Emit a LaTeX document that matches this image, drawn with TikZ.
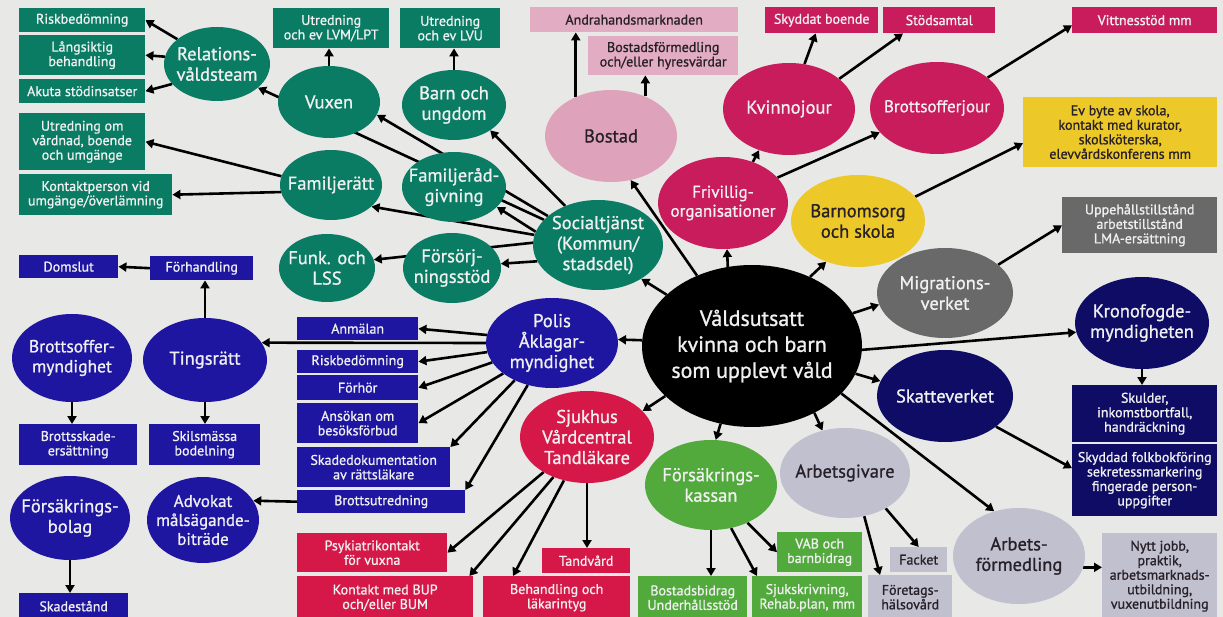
\documentclass[tikz,border=0pt]{standalone}
\usepackage{fontspec}
\setmainfont{PT Sans}[FakeBold=1]
\usetikzlibrary{arrows.meta,shapes.geometric}
\pgfdeclarelayer{back}
\pgfdeclarelayer{bg}
\pgfsetlayers{back,bg,main}
\definecolor{bgc}{RGB}{232,232,230}
\definecolor{teal}{RGB}{10,124,100}
\definecolor{polb}{RGB}{30,22,160}
\definecolor{navy}{RGB}{14,12,100}
\definecolor{pinkl}{RGB}{222,163,187}
\definecolor{pinkb}{RGB}{226,172,194}
\definecolor{mag}{RGB}{200,28,92}
\definecolor{redc}{RGB}{214,24,72}
\definecolor{yel}{RGB}{236,200,40}
\definecolor{greyd}{RGB}{105,105,105}
\definecolor{grn}{RGB}{82,170,60}
\definecolor{lav}{RGB}{192,192,206}
\definecolor{darkt}{RGB}{40,32,40}
\definecolor{lightt}{RGB}{240,240,240}
\tikzset{
 ell/.style={ellipse, inner xsep=-20pt, inner ysep=-10pt, font=\fontsize{18.5}{20.5}\selectfont, align=center, text=lightt},
 ellsm/.style={font=\fontsize{17}{19}\selectfont},
 bx/.style={rectangle, anchor=north west, inner sep=0pt, font=\fontsize{14}{14.5}\selectfont, align=center, text=lightt},
 arr/.style={line width=2.6pt, -{Triangle[length=8pt,width=9pt]}, black}
}
\begin{document}
\begin{tikzpicture}[x=1pt,y=-1pt]
\useasboundingbox (0,0) rectangle (1223,617);
\begin{pgfonlayer}{back}
\fill[bgc] (0,0) rectangle (1223,617);
\end{pgfonlayer}
% ---------- boxes ----------
\node[bx,fill=teal,minimum width=126pt,minimum height=24pt] (t1) at (19,8) {Riskbedömning};
\node[bx,fill=teal,minimum width=126pt,minimum height=40pt] (t2) at (19,35) {Långsiktig\\behandling};
\node[bx,fill=teal,minimum width=126pt,minimum height=24pt] (t3) at (19,79) {Akuta stödinsatser};
\node[bx,fill=teal,minimum width=126pt,minimum height=57pt] (t4) at (19,113) {Utredning om\\vårdnad, boende\\och umgänge};
\node[bx,fill=teal,minimum width=153pt,minimum height=41pt] (t5) at (19,174) {Kontaktperson vid\\umgänge/överlämning};
\node[bx,fill=teal,minimum width=116pt,minimum height=40pt] (t6) at (273,8) {Utredning\\och ev LVM/LPT};
\node[bx,fill=teal,minimum width=100pt,minimum height=40pt] (t7) at (400,8) {Utredning\\och ev LVU};
\node[bx,fill=pinkb,text=darkt,minimum width=208pt,minimum height=25pt] (p1) at (530,7) {Andrahandsmarknaden};
\node[bx,fill=pinkb,text=darkt,minimum width=150pt,minimum height=39pt] (p2) at (588,36) {Bostadsförmedling\\och/eller hyresvärdar};
\node[bx,fill=mag,minimum width=113pt,minimum height=26pt] (m1) at (765,7) {Skyddat boende};
\node[bx,fill=mag,minimum width=112pt,minimum height=26pt] (m2) at (883,7) {Stödsamtal};
\node[bx,fill=mag,minimum width=145pt,minimum height=26pt] (m3) at (1072,7) {Vittnesstöd mm};
\node[bx,fill=yel,text=darkt,minimum width=194pt,minimum height=70pt] (y1) at (1023,97) {Ev byte av skola,\\kontakt med kurator,\\skolsköterska,\\elevvårdskonferens mm};
\node[bx,fill=greyd,minimum width=155pt,minimum height=56pt] (g1) at (1062,197) {Uppehållstillstånd\\arbetstillstånd\\LMA-ersättning};
\node[bx,fill=polb,minimum width=99pt,minimum height=23pt] (d1) at (19,255) {Domslut};
\node[bx,fill=polb,minimum width=103pt,minimum height=24pt] (d2) at (150,256) {Förhandling};
\node[bx,fill=polb,minimum width=121pt,minimum height=23pt] (b1) at (297,317) {Anmälan};
\node[bx,fill=polb,minimum width=121pt,minimum height=23pt] (b2) at (297,350) {Riskbedömning};
\node[bx,fill=polb,minimum width=121pt,minimum height=25pt] (b3) at (297,375) {Förhör};
\node[bx,fill=polb,minimum width=121pt,minimum height=40pt] (b4) at (297,403) {Ansökan om\\besöksförbud};
\node[bx,fill=polb,minimum width=153pt,minimum height=40pt] (b5) at (297,447) {Skadedokumentation\\av rättsläkare};
\node[bx,fill=polb,minimum width=168pt,minimum height=23pt] (b6) at (297,490) {Brottsutredning};
\node[bx,fill=polb,minimum width=118pt,minimum height=41pt] (d3) at (19,424) {Brottsskade-\\ersättning};
\node[bx,fill=polb,minimum width=111pt,minimum height=41pt] (d4) at (149,424) {Skilsmässa\\bodelning};
\node[bx,fill=polb,minimum width=109pt,minimum height=26pt] (d5) at (19,593) {Skadestånd};
\node[bx,fill=redc,minimum width=150pt,minimum height=39pt] (r1) at (297,533) {Psykiatrikontakt\\för vuxna};
\node[bx,fill=redc,minimum width=176pt,minimum height=43pt] (r2) at (297,576) {Kontakt med BUP\\och/eller BUM};
\node[bx,fill=redc,minimum width=88pt,minimum height=25pt] (r3) at (542,548) {Tandvård};
\node[bx,fill=redc,minimum width=147pt,minimum height=43pt] (r4) at (483,576) {Behandling och\\läkarintyg};
\node[bx,fill=grn,minimum width=109pt,minimum height=43pt] (gr1) at (638,576) {Bostadsbidrag\\Underhållsstöd};
\node[bx,fill=grn,minimum width=110pt,minimum height=43pt] (gr2) at (752,576) {Sjukskrivning,\\Rehab.plan, mm};
\node[bx,fill=grn,minimum width=85pt,minimum height=40pt] (gr3) at (777,532) {VAB och\\barnbidrag};
\node[bx,fill=lav,text=darkt,minimum width=57pt,minimum height=25pt] (l1) at (890,547) {Facket};
\node[bx,fill=lav,text=darkt,minimum width=84pt,minimum height=44pt] (l2) at (868,575) {Företags-\\hälsovård};
\node[bx,fill=lav,text=darkt,minimum width=115pt,minimum height=86pt] (l3) at (1102,533) {Nytt jobb,\\praktik,\\arbetsmarknads-\\utbildning,\\vuxenutbildning};
\node[bx,fill=navy,minimum width=145pt,minimum height=57pt] (n1) at (1072,385) {Skulder,\\inkomstbortfall,\\handräckning};
\node[bx,fill=navy,minimum width=145pt,minimum height=72pt] (n2) at (1072,444) {Skyddad folkbokföring\\sekretessmarkering\\fingerade person-\\uppgifter};
% ---------- ellipses ----------
\node[ell,fill=teal,minimum width=106pt,minimum height=74pt] (rel) at (217,64) {Relations-\\våldsteam};
\node[ell,fill=teal,minimum width=102pt,minimum height=72pt] (vux) at (329,102) {Vuxen};
\node[ell,fill=teal,minimum width=104pt,minimum height=70pt] (barn) at (454,105) {Barn och\\ungdom};
\node[ell,fill=teal,minimum width=102pt,minimum height=70pt] (famr) at (331,185) {Familjerätt};
\node[ell,fill=teal,minimum width=104pt,minimum height=70pt] (famg) at (454,187) {Familjeråd-\\givning};
\node[ell,fill=teal,minimum width=96pt,minimum height=68pt] (funk) at (327,268) {Funk. och\\LSS};
\node[ell,fill=teal,minimum width=98pt,minimum height=70pt] (fors) at (452,268) {Försörj-\\ningsstöd};
\node[ell,fill=teal,minimum width=130pt,minimum height=90pt] (soc) at (598,245) {Socialtjänst\\(Kommun/\\stadsdel)};
\node[ell,fill=pinkl,text=darkt,minimum width=132pt,minimum height=92pt] (bost) at (611,136) {Bostad};
\node[ell,ellsm,fill=mag,minimum width=130pt,minimum height=92pt] (friv) at (723,203) {Frivillig-\\organisationer};
\node[ell,fill=mag,minimum width=132pt,minimum height=92pt] (kvin) at (789,109) {Kvinnojour};
\node[ell,ellsm,fill=mag,minimum width=134pt,minimum height=92pt] (brj) at (937,108) {Brottsofferjour};
\node[ell,fill=yel,text=darkt,minimum width=134pt,minimum height=92pt] (barno) at (858,221) {Barnomsorg\\och skola};
\node[ell,fill=greyd,minimum width=136pt,minimum height=90pt] (migr) at (945,293) {Migrations-\\verket};
\node[ell,fill=navy,minimum width=134pt,minimum height=92pt] (krono) at (1142,323) {Kronofogde-\\myndigheten};
\node[ell,fill=navy,minimum width=136pt,minimum height=92pt] (skatt) at (945,396) {Skatteverket};
\node[ell,fill=lav,text=darkt,minimum width=130pt,minimum height=90pt] (arbg) at (845,473) {Arbetsgivare};
\node[ell,fill=lav,text=darkt,minimum width=132pt,minimum height=96pt] (arbf) at (1019,556) {Arbets-\\förmedling};
\node[ell,fill=black,font=\fontsize{22}{26}\selectfont,minimum width=220pt,minimum height=162pt] (center) at (752,346) {Våldsutsatt\\kvinna och barn\\som upplevt våld};
\node[ell,fill=polb,minimum width=132pt,minimum height=90pt] (pol) at (552,343) {Polis\\Åklagar-\\myndighet};
\node[ell,fill=redc,minimum width=134pt,minimum height=92pt] (sjuk) at (587,437) {Sjukhus\\Vårdcentral\\Tandläkare};
\node[ell,fill=grn,minimum width=132pt,minimum height=90pt] (fkass) at (711,485) {Försäkrings-\\kassan};
\node[ell,fill=polb,font=\fontsize{17.5}{20}\selectfont,minimum width=120pt,minimum height=88pt] (brom) at (72,358) {Brottsoffer-\\myndighet};
\node[ell,fill=polb,minimum width=124pt,minimum height=84pt] (ting) at (205,360) {Tingsrätt};
\node[ell,fill=polb,minimum width=120pt,minimum height=84pt] (fbol) at (70,518) {Försäkrings-\\bolag};
\node[ell,ellsm,fill=polb,minimum width=112pt,minimum height=86pt] (adv) at (203,520) {Advokat\\målsägande-\\biträde};
% ---------- connectors ----------
\begin{pgfonlayer}{bg}
\draw[arr] (rel.148) -- (t1.east);
\draw[arr] (rel.172) -- (t2.east);
\draw[arr] (rel.204) -- (t3.east);
\draw[arr] (soc.155) -- (rel.-30);
\draw[arr] (soc.150) -- (vux.-15);
\draw[arr] (soc.130) -- (barn.-35);
\draw[arr] (soc.168) -- (famg.-25);
\draw[arr] (soc.171) -- (famr.-28);
\draw[arr] (famr.170) -- (t4.east);
\draw[arr] (famr.188) -- (t5.east);
\draw[arr] (soc.178) -- (funk.10);
\draw[arr] (soc.195) -- (fors.5);
\draw[arr] (vux.north) -- (vux.north |- t6.south);
\draw[arr] (barn.north) -- (barn.north |- t7.south);
\draw[arr] (bost.132) -- (bost.132 |- p1.south);
\draw[arr] (bost.49) -- (bost.49 |- p2.south);
\draw[arr] (center.128) -- (bost.-66);
\draw[arr] (center.149) -- (soc.-38);
\draw[arr] (center.107) -- (friv.-85);
\draw[arr] (center.50) -- (barno.-128);
\draw[arr] (center.18) -- (migr.190);
\draw[arr] (center.-2) -- (krono.188);
\draw[arr] (center.-15) -- (skatt.167);
\draw[arr] (center.-28) -- (arbf.119);
\draw[arr] (center.-47) -- (arbg.118);
\draw[arr] (center.-112) -- (fkass.84);
\draw[arr] (center.210) -- (sjuk.25);
\draw[arr] (center.177) -- (pol.3);
\draw[arr] (pol.west) -- (ting.17);
\draw[arr] (pol.173) -- (b1.east);
\draw[arr] (pol.188) -- (b2.east);
\draw[arr] (pol.198) -- (b3.east);
\draw[arr] (pol.212) -- (b4.east);
\draw[arr] (pol.225) -- (b5.north east);
\draw[arr] (pol.240) -- (b6.north east);
\draw[arr] (b6.west) -- (adv.21);
\draw[arr] (ting.north) -- (ting.north |- d2.south);
\draw[arr] (d2.west) -- (d1.east);
\draw[arr] (brom.south) -- (brom.south |- d3.north);
\draw[arr] (ting.south) -- (ting.south |- d4.north);
\draw[arr] (fbol.south) -- (fbol.south |- d5.north);
\draw[arr] (sjuk.south) -- (sjuk.south |- r3.north);
\draw[arr] (sjuk.219) -- (r1.east);
\draw[arr] (sjuk.230) -- ([xshift=-4pt]r2.north east);
\draw[arr] (sjuk.242) -- ([xshift=30pt]r4.north west);
\draw[arr] (fkass.south) -- (fkass.south |- gr1.north);
\draw[arr] (fkass.-65) -- ([xshift=5pt]gr2.north west);
\draw[arr] (fkass.-46) -- (gr3.west);
\draw[arr] (arbg.-41) -- (l1.north);
\draw[arr] (arbg.-66) -- ([xshift=12pt]l2.north west);
\draw[arr] (arbf.-10) -- (arbf.-10 -| l3.west);
\draw[arr] (skatt.-31) -- ([yshift=12pt]n2.west);
\draw[arr] (krono.south) -- (krono.south |- n1.north);
\draw[arr] (migr.28) -- (g1.west);
\draw[arr] (barno.23) -- ([yshift=-11pt]y1.west);
\draw[arr] (friv.54) -- (kvin.234);
\draw[arr] (friv.25) -- (brj.203);
\draw[arr] (kvin.71) -- ([xshift=-6pt]m1.south);
\draw[arr] (kvin.31) -- ([xshift=20pt]m2.south west);
\draw[arr] (brj.31) -- ([yshift=-5pt]m3.west);
\end{pgfonlayer}
\end{tikzpicture}
\end{document}
